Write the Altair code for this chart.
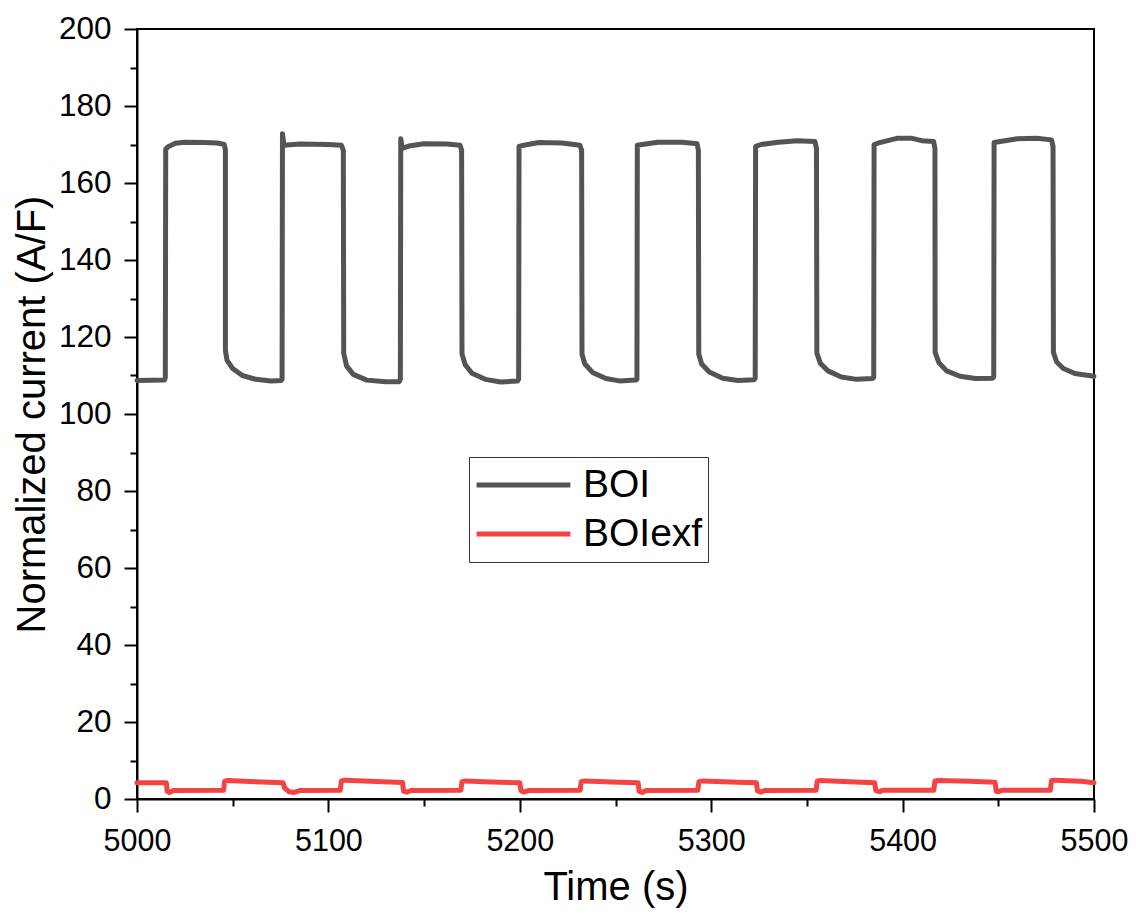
import altair as alt
import pandas as pd

# BOI series (time in s, normalized current in A/F)
boi_t = [5000, 5014.4, 5014.8, 5015.0, 5016.5, 5020, 5025, 5035, 5042, 5045.6, 5046.2, 5046.2, 5047.0, 5050, 5055, 5062, 5070, 5075.3,
         5075.8, 5076.0, 5076.8, 5085, 5100, 5106.8, 5107.8, 5108.0, 5109.5, 5113, 5120, 5130, 5137.0,
         5137.6, 5137.8, 5138.6, 5142, 5150, 5162, 5168.8, 5169.6, 5169.8, 5171.5, 5175, 5182, 5190, 5198.8,
         5199.4, 5199.6, 5202, 5210, 5222, 5231.4, 5232.3, 5232.5, 5234, 5238, 5245, 5252, 5260.6,
         5261.2, 5261.4, 5264, 5272, 5285, 5292.6, 5293.3, 5293.5, 5295, 5299, 5306, 5314, 5322.4,
         5323.0, 5323.2, 5326, 5335, 5345, 5354.2, 5355.0, 5355.2, 5357, 5361, 5368, 5376, 5384.3,
         5384.9, 5385.1, 5388, 5397, 5405, 5410, 5416.2, 5416.9, 5417.0, 5419, 5423, 5430, 5438, 5447.0,
         5447.6, 5447.8, 5451, 5460, 5470, 5477.8, 5478.6, 5478.8, 5480.5, 5484, 5490, 5500]
boi_v = [108.7, 108.8, 109.5, 168.8, 169.5, 170.3, 170.6, 170.5, 170.4, 170.0, 168.5, 116.5, 114.0, 111.8, 110.0, 109.0, 108.6, 108.7,
         109.0, 172.8, 169.8, 170.1, 170.0, 169.8, 168.5, 115.7, 112.5, 110.3, 108.8, 108.4, 108.4,
         109.0, 171.5, 169.0, 169.6, 170.2, 170.1, 169.8, 168.5, 115.6, 112.8, 110.6, 109.0, 108.3, 108.6,
         109.0, 169.5, 169.8, 170.5, 170.4, 169.8, 168.5, 115.5, 113.0, 110.8, 109.2, 108.6, 108.8,
         109.0, 169.8, 170.0, 170.6, 170.6, 170.2, 168.5, 115.6, 113.0, 110.9, 109.3, 108.7, 108.9,
         109.2, 169.5, 170.0, 170.6, 171.0, 170.8, 169.0, 115.8, 113.2, 111.2, 109.6, 109.0, 109.2,
         109.5, 170.0, 170.5, 171.6, 171.6, 171.0, 170.8, 169.0, 116.0, 113.3, 111.2, 109.8, 109.2, 109.3,
         109.6, 170.5, 170.8, 171.5, 171.6, 171.2, 169.5, 116.0, 113.5, 111.8, 110.5, 109.8]

# BOIexf series
exf_t = [5000, 5015.3, 5015.8, 5017, 5019, 5045.2, 5045.8, 5047.5, 5062, 5076.3, 5077.2, 5079.5, 5082, 5085,
         5106.2, 5106.8, 5108.5, 5122, 5138.7, 5139.3, 5141, 5143, 5169.2, 5169.8, 5171.5, 5185, 5200.0,
         5200.6, 5202, 5204.5, 5231.5, 5232.1, 5234, 5248, 5261.8, 5262.4, 5264, 5266, 5293.0, 5293.6,
         5295.5, 5310, 5323.6, 5324.2, 5326, 5328, 5354.8, 5355.4, 5357, 5372, 5385.4, 5386.0, 5388, 5390,
         5416.3, 5416.9, 5418.5, 5435, 5448.3, 5448.9, 5450, 5452, 5477.2, 5477.8, 5479.5, 5493, 5500]
exf_v = [4.2, 4.2, 2.0, 1.7, 2.2, 2.3, 4.6, 4.8, 4.5, 4.2, 2.8, 1.9, 1.7, 2.2,
         2.3, 4.7, 4.9, 4.6, 4.3, 2.0, 1.8, 2.2, 2.3, 4.5, 4.7, 4.4, 4.2,
         2.2, 1.8, 2.2, 2.3, 4.5, 4.7, 4.4, 4.2, 2.0, 1.7, 2.2, 2.3, 4.5,
         4.7, 4.4, 4.2, 2.1, 1.8, 2.2, 2.3, 4.6, 4.8, 4.5, 4.2, 2.2, 1.9, 2.3,
         2.3, 4.7, 4.8, 4.6, 4.35, 2.0, 1.9, 2.3, 2.3, 4.8, 4.9, 4.6, 4.2]

series_names = ["BOI", "BOIexf"]
series_colors = ["#545454", "#F34343"]
x_ticks = list(range(5000, 5501, 50))
y_ticks = list(range(0, 201, 10))

df = pd.concat([
    pd.DataFrame({"t": boi_t, "v": boi_v, "s": series_names[0], "o": range(len(boi_t))}),
    pd.DataFrame({"t": exf_t, "v": exf_v, "s": series_names[1], "o": range(len(exf_t))}),
])

FONT = "Liberation Sans"

chart = alt.Chart(df).mark_line(strokeWidth=5, strokeJoin="round", strokeCap="round").encode(
    x=alt.X("t:Q", scale=alt.Scale(domain=[5000, 5500], nice=False, zero=False),
            axis=alt.Axis(title="Time (s)", values=x_ticks,
                          labelExpr="datum.value % 100 === 0 ? datum.label : ''",
                          tickSize={"condition": {"test": "datum.value % 100 === 0", "value": 13}, "value": 7},
                          format="d", labelPadding=14, titlePadding=11, labelFontSize=30.5)),
    y=alt.Y("v:Q", scale=alt.Scale(domain=[0, 200], nice=False),
            axis=alt.Axis(title="Normalized current (A/F)", values=y_ticks,
                          labelExpr="datum.value % 20 === 0 ? datum.label : ''",
                          tickSize={"condition": {"test": "datum.value % 20 === 0", "value": 13}, "value": 7},
                          labelPadding=13, titlePadding=6, labelFontSize=31.5)),
    color=alt.Color("s:N", scale=alt.Scale(domain=series_names, range=series_colors),
                    legend=alt.Legend(title=None, orient="none", legendX=332, legendY=428,
                                      symbolType="stroke", symbolSize=8800, symbolStrokeWidth=5,
                                      clipHeight=46, rowPadding=3, labelOffset=10,
                                      labelFontSize=39, labelFont=FONT, labelColor="black",
                                      strokeColor="#333333", fillColor="white", padding=5)),
    order="o:Q",
).properties(
    width=957, height=770,
    autosize=alt.AutoSizeParams(type="none"),
    padding={"left": 129, "top": 21, "right": 34, "bottom": 112},
).configure_view(
    stroke="black", strokeWidth=2
).configure_axis(
    grid=False, domainColor="black", domainWidth=2, tickColor="black", tickWidth=2,
    labelFont=FONT, labelColor="black",
    titleFont=FONT, titleFontSize=40, titleFontWeight="normal", titleColor="black",
    labelFlush=False
)

chart.save("out.html", embed_options={"renderer": "svg", "actions": False})
